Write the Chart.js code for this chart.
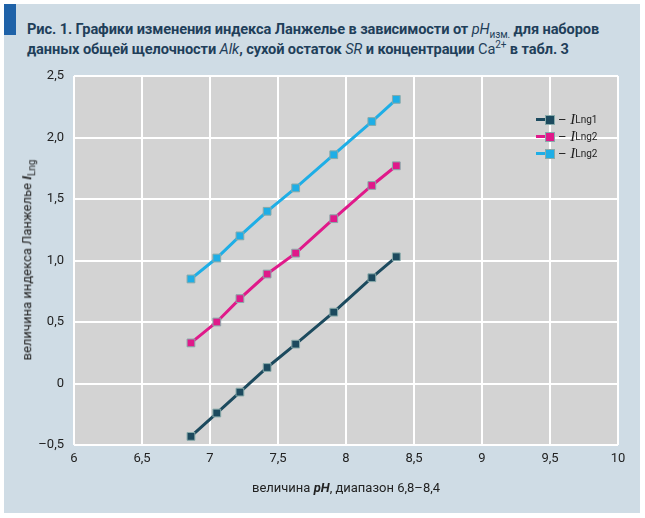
<!DOCTYPE html>
<html><head><meta charset="utf-8">
<script src="https://cdn.jsdelivr.net/npm/chart.js@4"></script>
<style>
body{margin:0;width:645px;height:518px;background:#fff;position:relative;overflow:hidden;font-family:'Roboto',sans-serif}
#panel{position:absolute;left:4px;top:4px;width:636px;height:509px;background:#cfdce5}
#bar{position:absolute;left:4px;top:4px;width:12px;height:31px;background:#1f62a8}
#title{position:absolute;left:27px;top:19px;font-weight:bold;font-size:14.6px;line-height:20px;color:#1f3f5a;white-space:nowrap;letter-spacing:-0.1px}
#title sub,#title sup{line-height:0;font-size:10px}
#wrap{position:absolute;left:0;top:0;width:645px;height:518px}
#ytitle{position:absolute;left:28px;top:260px;transform:translate(-50%,-50%) rotate(-90deg);font-size:13px;color:#222;white-space:nowrap}
#xtitle{position:absolute;left:346px;top:480px;transform:translateX(-50%);font-size:13px;color:#222;white-space:nowrap}
#legend{position:absolute;left:536px;top:111px;font-size:13px;color:#222;line-height:17px}
.li{display:flex;align-items:center;height:17px}
.sw{display:inline-block;width:10px;height:3px;margin-right:0}
.sq{display:inline-block;width:8px;height:8px;margin-right:4px}
sub{font-size:10px}
</style></head><body>
<div id="panel"></div><div id="bar"></div>
<div id="title">Рис. 1. Графики изменения индекса Ланжелье в зависимости от <i style="font-weight:normal">pH</i><sub style="font-weight:normal">изм.</sub> для наборов<br>данных общей щелочности <i style="font-weight:normal">Alk</i>, сухой остаток <i style="font-weight:normal">SR</i> и концентрации <span style="font-weight:normal">Ca<sup>2+</sup></span> в табл. 3</div>
<div id="wrap"><canvas id="c" width="645" height="518"></canvas></div>
<div id="ytitle">величина индекса Ланжелье <b><i>I</i></b><sub>Lng</sub></div>
<div id="xtitle">величина <b><i>pH</i></b>, диапазон 6,8–8,4</div>
<div id="legend"></div>
<script>
const xValues=[6.86,7.05,7.22,7.42,7.63,7.91,8.19,8.37];
const lng1=[-0.43,-0.24,-0.07,0.13,0.32,0.58,0.86,1.03];
const lng2=[0.33,0.50,0.69,0.89,1.06,1.34,1.61,1.77];
const lng3=[0.85,1.02,1.20,1.40,1.59,1.86,2.13,2.31];
const names=['Lng1','Lng2','Lng2'];
const colors=['#1c4a5e','#e0198a','#1eaee6'];
const series=[lng1,lng2,lng3];
const bgPlugin={id:'bg',beforeDraw(ch){const a=ch.chartArea,c=ch.ctx;c.save();c.fillStyle='#d3d3d3';c.fillRect(a.left,a.top,a.right-a.left,a.bottom-a.top);c.restore();}};
const fmtX=v=>(Math.round(v*10)/10).toString().replace('.',',');
const fmtY=v=>{if(Math.abs(v)<1e-9)return '0';let s=v.toFixed(1).replace('.',',');if(v<0)s='–'+s.slice(1);return s;};
const tf={size:13,family:"'Roboto'"};
new Chart(document.getElementById('c'),{type:'scatter',
data:{datasets:series.map((s,i)=>({data:s.map((y,j)=>({x:xValues[j],y})),showLine:true,borderColor:colors[i],backgroundColor:colors[i],borderWidth:3,pointStyle:'rect',pointRadius:5.5,pointBorderWidth:1,pointBorderColor:'#8aa'}))},
options:{responsive:false,animation:false,layout:{padding:{top:76,right:27,left:0,bottom:0}},
plugins:{legend:{display:false},tooltip:{enabled:false}},
scales:{x:{min:6,max:10,ticks:{stepSize:0.5,callback:fmtX,color:'#222',font:tf,padding:6},grid:{color:'#fff',lineWidth:2,drawTicks:false},border:{display:false},afterFit(s){s.height=73;}},
y:{min:-0.5,max:2.5,ticks:{stepSize:0.5,callback:fmtY,color:'#222',font:tf,padding:10},grid:{color:'#fff',lineWidth:2,drawTicks:false},border:{display:false},afterFit(s){s.width=74;}}}},
plugins:[bgPlugin]});
document.getElementById('legend').innerHTML=names.map((n,i)=>`<div class="li"><span class="sw" style="background:${colors[i]}"></span><span class="sq" style="background:${colors[i]};outline:1px solid #8aa"></span>– <i style="font-family:'Liberation Serif';font-size:15px">&nbsp;I</i><sub>${n}</sub></div>`).join('');
</script></body></html>
